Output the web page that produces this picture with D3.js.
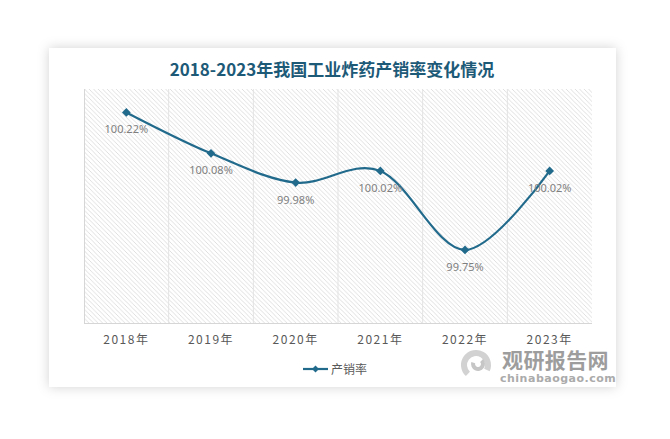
<!DOCTYPE html>
<html><head><meta charset="utf-8">
<script src="https://cdn.jsdelivr.net/npm/d3@7"></script>
<style>
html,body{margin:0;padding:0;background:#fff;}
svg{display:block;}
</style></head>
<body>
<script>
const categories = ["2018年","2019年","2020年","2021年","2022年","2023年"];
const values = [100.22, 100.08, 99.98, 100.02, 99.75, 100.02];
const labels = ["100.22%","100.08%","99.98%","100.02%","99.75%","100.02%"];
const seriesName = "产销率";
const title = "2018-2023年我国工业炸药产销率变化情况";

const W = 670, H = 439;
const svg = d3.select("body").append("svg").attr("width", W).attr("height", H);
const defs = svg.append("defs");
const f = defs.append("filter").attr("id","sh").attr("x","-10%").attr("y","-10%").attr("width","120%").attr("height","120%");
f.append("feDropShadow").attr("dx",0).attr("dy",0).attr("stdDeviation",6).attr("flood-color","#000").attr("flood-opacity",0.18);
const pat = defs.append("pattern").attr("id","hatch").attr("patternUnits","userSpaceOnUse")
  .attr("width",4.5).attr("height",4.5);
pat.append("rect").attr("width",4.5).attr("height",4.5).attr("fill","#fff");
pat.append("path").attr("d","M-1,-1 L5.5,5.5 M-1,3.5 L1,5.5 M3.5,-1 L5.5,1").attr("stroke","#dcdcdc").attr("stroke-width",0.9);

// card
svg.append("rect").attr("x",49).attr("y",48).attr("width",567).attr("height",339)
  .attr("fill","#fff").attr("filter","url(#sh)");

svg.append("text").attr("x",332).attr("y",76).attr("text-anchor","middle")
  .attr("font-family","'Noto Sans CJK SC','Noto Sans',sans-serif").attr("font-weight","bold")
  .attr("font-size",17).attr("fill","#1d5a78").text(title);

const L = 84, R = 592, T = 89, B = 323;
const x = d3.scaleBand().domain(categories).range([L,R]);
const y = d3.scaleLinear().domain([99.5,100.3]).range([B,T]);

svg.append("rect").attr("x",L).attr("y",T).attr("width",R-L).attr("height",B-T).attr("fill","url(#hatch)");

// vertical gridlines
svg.append("g").selectAll("line").data(categories.slice(1)).join("line")
  .attr("x1",d=>x(d)).attr("x2",d=>x(d)).attr("y1",T).attr("y2",B)
  .attr("stroke","#e3e3e3").attr("stroke-width",1);

// axes borders
svg.append("line").attr("x1",L+0.5).attr("x2",L+0.5).attr("y1",T).attr("y2",B).attr("stroke","#d6d6d6");
svg.append("line").attr("x1",L).attr("x2",R).attr("y1",B+0.5).attr("y2",B+0.5).attr("stroke","#d6d6d6");

// watermark (behind labels)
const wm = svg.append("g");
wm.append("path").attr("d", d3.arc()({innerRadius:9, outerRadius:15, startAngle:-2.4, endAngle:2.0}))
  .attr("transform","translate(476,365)").attr("fill","#d2d2d2");
wm.append("path").attr("d", d3.arc()({innerRadius:3, outerRadius:7, startAngle:0.8, endAngle:5.0}))
  .attr("transform","translate(478,364)").attr("fill","#c6c6c6");
wm.append("text").attr("x",502).attr("y",367.5).attr("font-family","'Noto Sans CJK SC',sans-serif").attr("font-weight","bold")
  .attr("font-size",21).attr("fill","#9d9d9d").attr("letter-spacing","0.4px").text("观研报告网");
wm.append("text").attr("x",500).attr("y",382).attr("font-family","'DejaVu Sans',sans-serif").attr("font-weight","bold")
  .attr("font-size",11).attr("fill","#ababab").attr("letter-spacing","0.5px").text("chinabaogao.com");

const xAxis = d3.axisBottom(x).tickSize(0).tickPadding(12);
const gx = svg.append("g").attr("transform",`translate(0,${B})`).call(xAxis);
gx.select(".domain").remove();
gx.selectAll("text").attr("font-family","'Noto Sans CJK SC',sans-serif").attr("font-size",12)
  .attr("fill","#595959").attr("letter-spacing","1.5px");

const cx = d => x(d) + x.bandwidth()/2;
const line = d3.line().x((d,i)=>cx(categories[i])).y(d=>y(d)).curve(d3.curveCardinal.tension(0));
const color = "#216a8c";
svg.append("path").datum(values).attr("d",line).attr("fill","none").attr("stroke",color).attr("stroke-width",2.2);

svg.append("g").selectAll("path").data(values).join("path")
  .attr("d", d3.symbol().type(d3.symbolSquare).size(38))
  .attr("transform",(d,i)=>`translate(${cx(categories[i])},${y(d)}) rotate(45)`)
  .attr("fill",color);

svg.append("g").selectAll("text").data(values).join("text")
  .attr("x",(d,i)=>cx(categories[i])).attr("y",d=>y(d)+21)
  .attr("text-anchor","middle").attr("font-family","'Noto Sans',sans-serif").attr("font-size",11)
  .attr("fill","#7f7f7f").text((d,i)=>labels[i]);

// legend
svg.append("line").attr("x1",303).attr("x2",328).attr("y1",369).attr("y2",369).attr("stroke",color).attr("stroke-width",2.2);
svg.append("path").attr("d", d3.symbol().type(d3.symbolSquare).size(24)).attr("transform","translate(315.5,369) rotate(45)").attr("fill",color);
svg.append("text").attr("x",331).attr("y",373.5).attr("font-family","'Noto Sans CJK SC',sans-serif").attr("font-size",12)
  .attr("fill","#595959").text(seriesName);
</script>
</body></html>
